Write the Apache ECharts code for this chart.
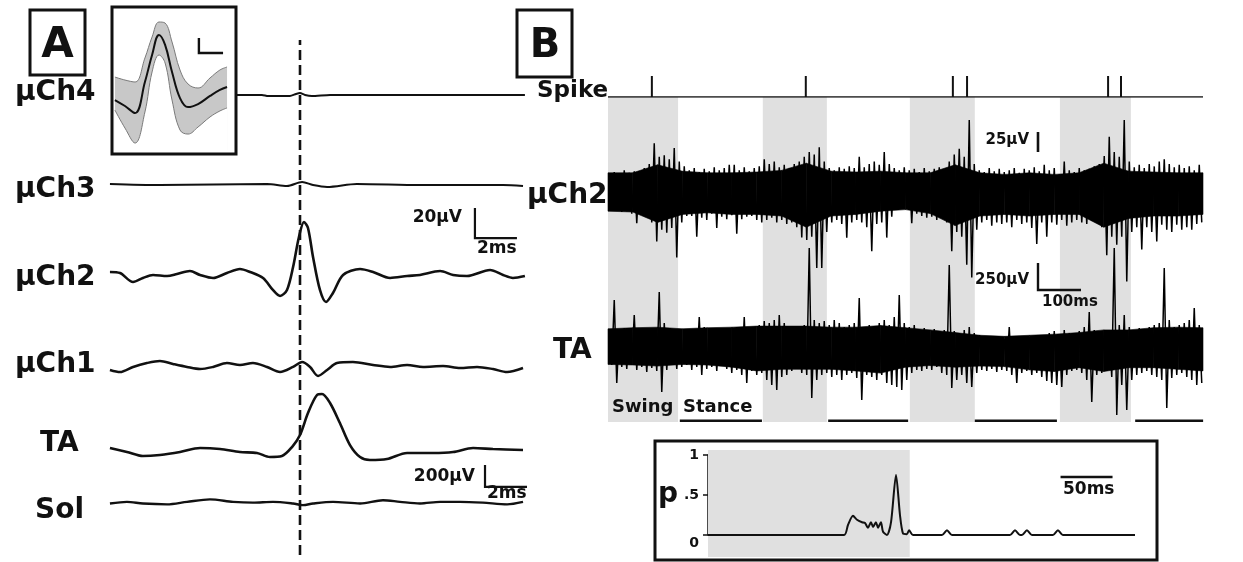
<!DOCTYPE html>
<html><head><meta charset="utf-8">
<script src="https://cdn.jsdelivr.net/npm/echarts@6/dist/echarts.min.js"></script>
<style>html,body{margin:0;padding:0;background:#fff}#c{width:1243px;height:562px}</style>
</head><body><div id="c"></div>
<script>
// ===== Panel A: spike-triggered averages. t in ms (0 = spike), values in µV =====
const aCh4 = [[-3.05,0],[-1.81,0],[-1.52,-0.7],[-0.48,-0.7],[-0.19,0.7],[0,1.3],[0.24,0],[0.57,-0.7],[1.43,0],[10.71,0]];
const aCh3 = [[-9.05,0.7],[-6.67,0],[-1.57,0.7],[-0.62,-0.7],[0.1,2],[0.62,0],[1.29,-1.3],[2.71,0.7],[5.71,0],[9.67,0],[10.62,-0.7]];
const aCh2 = [[-9.05,0.7],[-8.57,0],[-7.95,-6],[-7.48,-3.3],[-7.0,-1.3],[-6.33,-2],[-5.86,-0.7],[-5.24,1.3],[-4.76,-1.3],[-4.14,-3.3],[-3.48,0],[-2.86,2.7],[-2.38,0.7],[-1.76,-3.3],[-1.29,-11.3],[-0.95,-15.3],[-0.62,-11.3],[-0.33,4],[-0.05,24],[0.19,34],[0.38,30],[0.62,10.7],[0.95,-11.3],[1.24,-19.3],[1.57,-13.3],[2.05,-1.3],[2.86,2.7],[3.48,0.7],[4.29,-3.3],[5.1,-2],[5.71,-1.3],[6.67,1.3],[7.29,-1.3],[7.95,-2],[9.05,2],[9.67,-1.3],[10.14,-3.3],[10.71,-2]];
const aCh1 = [[-9.05,-1.3],[-8.57,-2.7],[-7.95,0.7],[-7.29,3.3],[-6.67,4.7],[-6.05,2.7],[-5.38,0.7],[-4.76,-0.7],[-4.14,0.7],[-3.48,3.3],[-2.86,2],[-2.24,3.3],[-1.57,0.7],[-0.95,-2.7],[-0.33,0.7],[0.1,4],[0.48,0.7],[0.86,-5.3],[1.29,-1.3],[1.76,3.3],[2.52,4],[3.48,2],[4.29,0.7],[5.1,2],[5.86,0.7],[6.81,1.3],[7.62,0],[8.43,0.7],[9.19,-0.7],[9.86,-2.7],[10.62,0]];
const aTA = [[-9.05,18],[-8.24,-18],[-7.48,-55],[-6.67,-45],[-5.71,-18],[-4.76,18],[-3.81,9],[-2.86,-18],[-2.05,-27],[-1.43,-64],[-0.86,-55],[-0.38,27],[0,136],[0.38,336],[0.81,500],[1.05,509],[1.43,427],[1.9,245],[2.38,45],[2.86,-64],[3.33,-91],[4.14,-82],[5.1,-27],[6.33,-27],[7.29,-18],[8.24,18],[9.19,9],[10.62,0]];
const aSol = [[-9.05,0],[-8.24,18],[-7.48,0],[-6.33,-9],[-5.38,18],[-4.29,45],[-3.19,18],[-2.24,9],[-1.29,18],[-0.33,0],[0.14,-18],[0.62,0],[1.57,18],[2.86,0],[3.95,36],[4.76,18],[5.71,0],[6.67,18],[7.62,18],[8.71,9],[9.86,-9],[10.62,18]];

// Inset: mean spike waveform ± band (t in ms, µV)
const insetT     = [-2.1,-1.62,-1.14,-0.67,-0.33,0,0.29,0.62,1.0,1.38,1.86,2.43,2.9,3.24];
const insetMean  = [0,-4,-8.7,12,30,43.3,36.7,18.7,1.3,-4.7,-2.7,2.7,6.7,8.7];
const insetUpper = [15.3,13.3,12,28,42,52,51.3,38.7,20,10.7,8,14.7,20,22];
const insetLower = [-6.7,-18.7,-28.7,-8,18.7,30,24.7,0,-20,-22.7,-18,-11.3,-7.3,-5.3];

// ===== Panel B: raw recordings, per-bin max / min (bins of 11.63 ms), µV =====
const B_BIN_MS = 11.628;
const bCh2Max = [22,25,21,27,24,26,22,30,35,61, 44,46,41,55,38,32,27,30,25,29, 26,31,27,30,34,34,27,31,26,30,
  32,41,35,38,31,34,30,35,38,44, 50,47,56,38,30,27,31,29,32,30, 44,31,35,38,34,50,35,30,27,31,
  27,29,25,30,26,29,31,27,38,47, 54,44,90,35,27,25,30,26,29,25, 27,30,24,29,27,31,26,34,27,30,
  22,38,27,25,30,27,29,32,35,45, 69,50,44,90,38,31,34,30,35,32, 38,41,35,31,34,30,32,27,34];
const bCh2Min = [-22,-21,-25,-24,-27,-39,-25,-30,-38,-62, -47,-51,-45,-82,-38,-30,-30,-56,-32,-35, -27,-45,-31,-34,-29,-52,-34,-31,-30,-35,
  -38,-35,-32,-38,-35,-40,-38,-44,-57,-60, -56,-95,-95,-50,-38,-35,-40,-57,-38,-35, -38,-44,-74,-40,-38,-57,-31,-22,-17,-20,
  -39,-27,-30,-32,-31,-35,-30,-38,-74,-50, -56,-91,-107,-47,-38,-35,-42,-38,-40,-38, -44,-35,-40,-38,-45,-65,-38,-56,-38,-41,
  -35,-42,-38,-35,-38,-40,-36,-38,-44,-79, -56,-66,-56,-112,-50,-44,-72,-44,-50,-62, -41,-47,-50,-41,-47,-44,-47,-40,-38];
const bTaMax = [130,417,139,157,120,278,148,130,157,139, 491,204,148,130,111,139,130,148,259,167, 139,157,130,148,139,157,130,259,148,167,
  185,222,204,231,278,204,167,139,157,185, 898,231,204,222,185,231,204,167,185,204, 435,167,185,157,204,231,185,259,463,204,
  167,185,139,157,130,148,120,139,741,130, 111,139,167,111,93,74,83,65,74,56, 167,74,65,56,74,65,93,83,111,130,
  93,139,111,93,130,167,306,139,111,130, 120,898,185,278,167,139,157,130,167,185, 204,713,231,167,185,204,231,343,185];
const bTaMin = [-185,-352,-204,-222,-185,-231,-204,-250,-213,-241, -435,-231,-185,-222,-204,-185,-231,-204,-278,-222, -204,-241,-194,-222,-259,-231,-278,-352,-241,-278,
  -259,-324,-370,-417,-296,-278,-241,-204,-259,-278, -491,-324,-278,-259,-296,-278,-324,-278,-259,-306, -509,-278,-296,-324,-278,-352,-370,-389,-417,-324,
  -259,-231,-241,-222,-231,-204,-259,-278,-398,-324, -278,-352,-389,-259,-231,-241,-222,-250,-231,-241, -278,-352,-259,-241,-278,-259,-296,-333,-352,-370,
  -389,-278,-241,-231,-259,-324,-528,-278,-259,-241, -296,-648,-370,-602,-324,-278,-259,-241,-278,-296, -324,-583,-306,-278,-259,-296,-324,-370,-352];
// dense core of the noise band, sampled every 1/24 of the record, µV
const bCh2CoreTop = [24,24,34,26,24,24,25,27,36,26,25,26,24,24,34,24,22,24,22,24,36,26,25,24,24];
const bCh2CoreBot = [-24,-25,-38,-28,-26,-28,-28,-30,-44,-30,-28,-24,-22,-27,-42,-30,-28,-30,-28,-28,-44,-33,-30,-30,-28];
const bTaCoreTop  = [150,160,165,150,160,165,175,175,175,165,165,180,160,140,115,90,80,90,100,115,140,140,160,165,160];
const bTaCoreBot  = [-180,-185,-195,-180,-185,-205,-240,-225,-225,-225,-240,-260,-205,-190,-205,-195,-200,-230,-245,-210,-245,-210,-210,-225,-240];
const swingStart  = [0, 360, 702, 1051];
const swingEnd    = [163, 509, 853, 1216];
const stanceStart = [167, 512, 853, 1226];
const stanceEnd   = [358, 698, 1044, 1384];
const spikeTimes  = [102, 460, 802, 835, 1163, 1193];

// Probability inset (t in ms, p)
const pTrace = [[0,0],[130.8,0],[134.6,0.125],[139.4,0.24],[143.3,0.19],[148.1,0.16],[151,0.15],[153.8,0.09],[156.7,0.16],[158.7,0.1],[161.5,0.16],[163.5,0.09],[166.3,0.16],[168.3,0.04],[172.1,0],[176,0.16],[180.8,0.75],[184.6,0.25],[187.5,0.02],[191.3,0.01],[193.3,0.06],[197.1,0],
  [225,0],[229.8,0.06],[234.6,0],[290.4,0],[295.2,0.06],[300,0],[301.9,0],[306.7,0.06],[311.5,0],[331.7,0],[336.5,0.06],[341.3,0],[410.6,0]];
const pSwing  = [0, 194];
const pStance = [204, 410.6];
const pTicks  = [0, 0.5, 1];

// ===== layout helpers =====
const FONT = '"DejaVu Sans", sans-serif';
const grids = [], xAxes = [], yAxes = [], series = [];
function addGrid(left, top, width, height, xmin, xmax, ymin, ymax, yExtra) {
  const i = grids.length;
  grids.push({left: left, top: top, width: width, height: height});
  xAxes.push({type: 'value', gridIndex: i, min: xmin, max: xmax, show: false});
  yAxes.push(Object.assign({type: 'value', gridIndex: i, min: ymin, max: ymax, show: false, splitLine: {show: false}}, yExtra || {}));
  return i;
}
function line(g, data, width, extra) {
  series.push(Object.assign({type: 'line', xAxisIndex: g, yAxisIndex: g, data: data, symbol: 'none', silent: true,
    lineStyle: {color: '#111', width: width}, z: 3}, extra || {}));
}
function segs(g, list, width, extra) {
  series.push(Object.assign({type: 'lines', coordinateSystem: 'cartesian2d', xAxisIndex: g, yAxisIndex: g, polyline: true, silent: true,
    data: list.map(c => ({coords: c})), lineStyle: {color: '#111', width: width, opacity: 1}, z: 4}, extra || {}));
}
function bands(g, starts, ends, ytop, ybot, color) {
  series.push({type: 'custom', xAxisIndex: g, yAxisIndex: g, silent: true, z: 1, clip: false,
    data: starts.map((s, i) => [s, ends[i]]),
    renderItem: function (params, api) {
      const p0 = api.coord([api.value(0), ytop]);
      const p1 = api.coord([api.value(1), ybot]);
      return {type: 'rect', shape: {x: p0[0], y: p0[1], width: p1[0] - p0[0], height: p1[1] - p0[1]}, style: {fill: color}};
    }});
}

// Panel A grids
const A_ZERO_X = 300, A_PX_MS = 21, A_LEFT = 110, A_RIGHT = 525;
const aXmin = (A_LEFT - A_ZERO_X) / A_PX_MS, aXmax = (A_RIGHT - A_ZERO_X) / A_PX_MS;
function aGrid(baseY, pxPerUnit) {
  return addGrid(A_LEFT, baseY - 70, A_RIGHT - A_LEFT, 140, aXmin, aXmax, -70 / pxPerUnit, 70 / pxPerUnit);
}
const MU_PX = 30 / 20;   // 20 µV = 30 px
const EMG_PX = 22 / 200; // 200 µV = 22 px
const gCh4 = aGrid(95, MU_PX), gCh3 = aGrid(185, MU_PX), gCh2 = aGrid(273, MU_PX), gCh1 = aGrid(368, MU_PX);
const gTA = aGrid(450, EMG_PX), gSol = aGrid(515, EMG_PX);
line(gCh4, aCh4, 2, {smooth: 0.2});
line(gCh3, aCh3, 2, {smooth: 0.3});
line(gCh2, aCh2, 2.6, {smooth: 0.3});
line(gCh1, aCh1, 2.5, {smooth: 0.3});
line(gTA, aTA, 2.6, {smooth: 0.3});
line(gSol, aSol, 2.4, {smooth: 0.3});
segs(gCh2, [[[8.33, 43.3], [8.33, 23.3], [10.33, 23.3]]], 2.2);
segs(gTA, [[[8.81, -136], [8.81, -336], [10.81, -336]]], 2.2);
const gDash = addGrid(A_LEFT, 40, A_RIGHT - A_LEFT, 515, aXmin, aXmax, 0, 1);
segs(gDash, [[[0, 0], [0, 1]]], 2.6, {lineStyle: {color: '#111', width: 2.6, opacity: 1, type: [10, 5]}});

// Inset of panel A
const gIn = addGrid(115, 12, 112, 138, -2.095, 3.238, -33.33, 58.67);
const inUp = insetT.map((t, i) => [t, insetUpper[i]]);
const inLo = insetT.map((t, i) => [t, insetLower[i]]);
const inMe = insetT.map((t, i) => [t, insetMean[i]]);
line(gIn, inUp, 1, {smooth: 0.4, lineStyle: {color: '#7a7a7a', width: 1}, areaStyle: {color: '#c8c8c8', opacity: 1, origin: 'start'}, z: 2});
line(gIn, inLo, 1, {smooth: 0.4, lineStyle: {color: '#7a7a7a', width: 1}, areaStyle: {color: '#ffffff', opacity: 1, origin: 'start'}, z: 2});
line(gIn, inMe, 2, {smooth: 0.4, z: 3});
segs(gIn, [[[1.9, 41.3], [1.9, 31.3], [3.05, 31.3]]], 2.4);

// Panel B grids
const B_LEFT = 608, B_W = 595, B_PX_MS = 0.43;
const bXmax = B_W / B_PX_MS;
const gBand = addGrid(B_LEFT, 97, B_W, 325, 0, bXmax, 0, 1);
bands(gBand, swingStart, swingEnd, 1, 0, '#e0e0e0');
segs(gBand, stanceStart.map((s, i) => [[s, 0.004], [stanceEnd[i], 0.004]]), 2.6);
const gSpk = addGrid(B_LEFT, 76, B_W, 21, 0, bXmax, 0, 1);
segs(gSpk, [[[0, 0], [bXmax, 0]]], 1.6);
segs(gSpk, spikeTimes.map(t => [[t, 0], [t, 1]]), 2);

function zigzag(maxs, mins) {
  const pts = [];
  for (let i = 0; i < maxs.length; i++) {
    const t = (i + 0.5) * B_BIN_MS;
    pts.push([t - B_BIN_MS / 4, maxs[i]], [t + B_BIN_MS / 4, mins[i]]);
  }
  return pts;
}
// dense core drawn as filled quads between consecutive core samples
function core(g, top, bot) {
  const step = bXmax / (top.length - 1);
  series.push({type: 'custom', xAxisIndex: g, yAxisIndex: g, silent: true, z: 2, clip: false,
    data: top.map((v, i) => [i * step, v, bot[i]]),
    renderItem: function (params, api) {
      const i = params.dataIndex;
      if (i >= top.length - 1) return null;
      const t0 = i * step, t1 = (i + 1) * step;
      const pts = [api.coord([t0, top[i]]), api.coord([t1, top[i + 1]]), api.coord([t1, bot[i + 1]]), api.coord([t0, bot[i]])];
      return {type: 'polygon', shape: {points: pts}, style: {fill: '#000', stroke: '#000', lineWidth: 0.6}};
    }});
}
const B_MU_PX = 20 / 25;    // 25 µV = 20 px
const B_EMG_PX = 27 / 250;  // 250 µV = 27 px
const gBCh2 = addGrid(B_LEFT, 97, B_W, 325, 0, bXmax, -(422 - 192) / B_MU_PX, (192 - 97) / B_MU_PX);
const gBTA = addGrid(B_LEFT, 97, B_W, 325, 0, bXmax, -(422 - 345) / B_EMG_PX, (345 - 97) / B_EMG_PX);
core(gBCh2, bCh2CoreTop, bCh2CoreBot);
core(gBTA, bTaCoreTop, bTaCoreBot);
line(gBCh2, zigzag(bCh2Max, bCh2Min), 1.5, {lineStyle: {color: '#000', width: 1.5, join: 'miter'}});
line(gBTA, zigzag(bTaMax, bTaMin), 1.5, {lineStyle: {color: '#000', width: 1.5, join: 'miter'}});
segs(gBCh2, [[[1000, 50], [1000, 75]]], 2.6);
segs(gBTA, [[[1000, 759], [1000, 509], [1100, 509]]], 2.4);

// Probability inset
const gP = addGrid(708, 455, 427, 80, 0, 410.6, 0, 1, {
  show: true, interval: 0.5,
  axisLine: {show: true, lineStyle: {color: '#111', width: 1.5}},
  axisTick: {show: true, length: 5, lineStyle: {color: '#111', width: 1.5}},
  axisLabel: {show: true, margin: 9, color: '#111', fontSize: 14, fontWeight: 'bold', fontFamily: FONT,
    formatter: v => pTicks.indexOf(v) < 0 ? '' : (v === 0 ? '{lo|0}' : (v === 0.5 ? '.5' : String(v))),
    rich: {lo: {padding: [16, 0, 0, 0], fontSize: 14, fontWeight: 'bold', fontFamily: FONT, color: '#111'}}}
});
bands(gP, [pSwing[0]], [pSwing[1]], 1.0625, -0.275, '#e0e0e0');
line(gP, pTrace, 2, {smooth: 0.25});
segs(gP, [[[pStance[0], -0.225], [pStance[1], -0.225]]], 3);
segs(gP, [[[339, 0.725], [389, 0.725]]], 2.4);

// Text and frames
function txt(s, x, y, size, align) {
  return {type: 'text', x: x, y: y, silent: true, z: 10,
    style: {text: s, fill: '#111', font: 'bold ' + size + 'px ' + FONT, textAlign: align || 'left', textVerticalAlign: 'middle'}};
}
function box(x, y, w, h) {
  return {type: 'rect', silent: true, z: 10, shape: {x: x, y: y, width: w, height: h}, style: {fill: 'none', stroke: '#111', lineWidth: 3}};
}
const graphics = [
  box(30, 10, 55, 65), box(517, 10, 55, 67), box(112, 7, 124, 147), box(655, 441, 502, 119),
  txt('A', 57.5, 46, 42, 'center'), txt('B', 545, 47, 40, 'center'),
  txt('μCh4', 15, 93, 28), txt('μCh3', 15, 190, 28), txt('μCh2', 15, 278, 28), txt('μCh1', 15, 365, 28),
  txt('TA', 40, 444, 28), txt('Sol', 35, 511, 28),
  txt('20μV', 462, 218, 17, 'right'), txt('2ms', 477, 249, 17), txt('200μV', 475, 477, 17, 'right'), txt('2ms', 487, 494, 17),
  txt('Spike', 537, 91, 23), txt('μCh2', 527, 196, 28), txt('TA', 553, 351, 28),
  txt('25μV', 1029, 140, 15, 'right'), txt('250μV', 1029, 280, 15, 'right'), txt('100ms', 1042, 302, 15),
  txt('Swing', 612, 407, 18), txt('Stance', 683, 407, 18),
  txt('p', 668, 495, 28, 'center'), txt('50ms', 1063, 490, 17)
];

const chart = echarts.init(document.getElementById('c'), null, {renderer: 'canvas'});
chart.setOption({
  animation: false, backgroundColor: '#fff',
  grid: grids, xAxis: xAxes, yAxis: yAxes, series: series, graphic: graphics
});
</script></body></html>
